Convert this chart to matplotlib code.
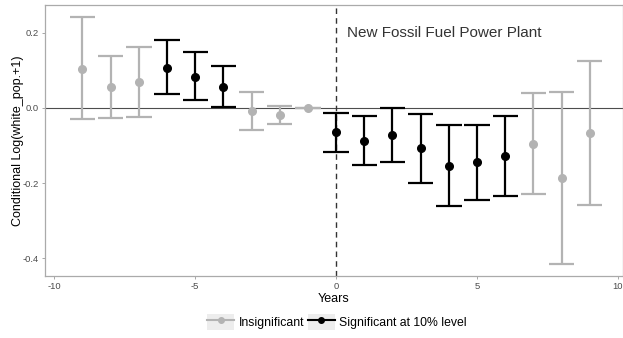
import matplotlib
matplotlib.use("Agg")
import matplotlib.pyplot as plt
from matplotlib.legend_handler import HandlerLine2D
from matplotlib.lines import Line2D
from matplotlib.patches import Rectangle

plt.rcParams['font.family'] = ['Liberation Sans', 'DejaVu Sans']

# event-time estimates
years = [-9, -8, -7, -6, -5, -4, -3, -2, -1, 0, 1, 2, 3, 4, 5, 6, 7, 8, 9]
estimate = [0.104, 0.055, 0.068, 0.107, 0.083, 0.056, -0.008, -0.019, 0.0,
            -0.065, -0.087, -0.072, -0.107, -0.154, -0.145, -0.128, -0.096, -0.187, -0.066]
upper = [0.240, 0.138, 0.161, 0.179, 0.148, 0.112, 0.042, 0.004, 0.0,
         -0.015, -0.023, 0.000, -0.016, -0.046, -0.046, -0.022, 0.039, 0.042, 0.124]
lower = [-0.031, -0.027, -0.024, 0.036, 0.021, 0.002, -0.058, -0.042, 0.0,
         -0.117, -0.151, -0.145, -0.199, -0.262, -0.244, -0.235, -0.230, -0.415, -0.257]
significant = [False, False, False, True, True, True, False, False, False,
               True, True, True, True, True, True, True, False, False, False]

labels = ["Insignificant", "Significant at 10% level"]
GREY = "#B3B3B3"
BLACK = "#000000"


class KeyHandler(HandlerLine2D):
    """legend key with the grey ggplot background"""
    def create_artists(self, legend, orig_handle, xdescent, ydescent,
                       width, height, fontsize, trans):
        bg = Rectangle((-xdescent, -ydescent), width, height,
                       facecolor="#EDEDED", edgecolor="none", transform=trans)
        arts = super().create_artists(legend, orig_handle, xdescent, ydescent,
                                      width, height, fontsize, trans)
        return [bg] + list(arts)


fig = plt.figure(figsize=(6.23, 3.38), dpi=100)
ax = fig.add_axes([0.0722, 0.1834, 0.9278, 0.8016])

ax.axhline(0, color="#4D4D4D", lw=0.8, zorder=1)
ax.axvline(0, color="#333333", lw=1.0, ls=(0, (4, 3)), zorder=1)

half = 0.45
for x, est, lo, hi, sig in zip(years, estimate, lower, upper, significant):
    col = BLACK if sig else GREY
    ax.vlines(x, lo, hi, color=col, lw=1.6, zorder=3)
    ax.hlines([lo, hi], x - half, x + half, color=col, lw=1.6, zorder=3)
    ax.plot(x, est, "o", color=col, ms=5.5, zorder=4)

ax.text(0.39, 0.198, "New Fossil Fuel Power Plant", fontsize=11,
        color="#333333", va="center", ha="left")

ax.set_xlim(-10.33, 10.18)
ax.set_ylim(-0.447, 0.273)
ax.set_xticks([-10, -5, 0, 5, 10])
ax.set_xticklabels(["-10", "-5", "0", "5", "10"])
ax.set_yticks([-0.4, -0.2, 0.0, 0.2])
ax.set_yticklabels(["-0.4", "-0.2", "0.0", "0.2"])
ax.tick_params(labelsize=6.8, labelcolor="#4D4D4D", color="#999999",
               length=2.5, width=0.6, pad=2)
for s in ax.spines.values():
    s.set_color("#AAAAAA")
    s.set_linewidth(0.9)

ax.set_xlabel("Years", fontsize=9, labelpad=1)
ax.set_ylabel("Conditional Log(white_pop.+1)", fontsize=9, labelpad=-1)

handles = [Line2D([], [], color=GREY, lw=1.5, marker="o", ms=4),
           Line2D([], [], color=BLACK, lw=1.5, marker="o", ms=4)]
fig.legend(handles, labels, loc="center", bbox_to_anchor=(0.541, 0.047),
           ncol=2, frameon=False, fontsize=8.8, handlelength=2.2,
           handleheight=1.6, handletextpad=0.35, columnspacing=0.3,
           borderpad=0.0, handler_map={Line2D: KeyHandler()})

fig.savefig("out.png", dpi=100)
